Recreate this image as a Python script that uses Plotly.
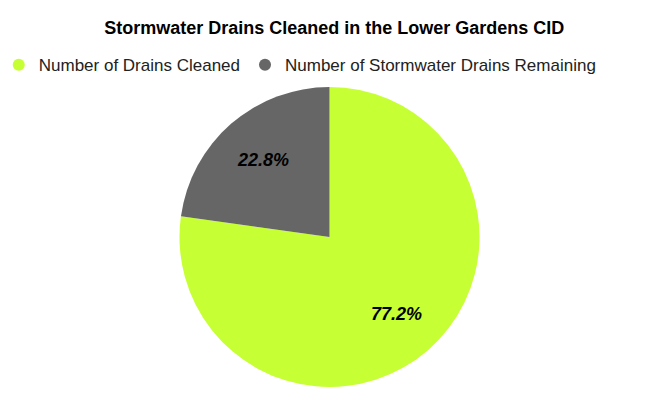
import math
import plotly.graph_objects as go

labels = ["Number of Drains Cleaned", "Number of Stormwater Drains Remaining"]
values = [77.2, 22.8]
colors = ["#c6ff33", "#666666"]

W, H = 659, 407
M = dict(l=0, r=16, t=79, b=28)

fig = go.Figure()
fig.add_trace(go.Pie(
    labels=labels, values=values, sort=False, direction="clockwise", rotation=0,
    marker=dict(colors=colors, line=dict(width=0)),
    textinfo="none",
    showlegend=False, hoverinfo="label+percent",
    domain=dict(x=[0, 1], y=[0, 1]),
))
for lab, col in zip(labels, colors):
    fig.add_trace(go.Scatter(x=[None], y=[None], mode="markers", name=lab,
                             marker=dict(symbol="circle", size=12, color=col)))

# percentage labels placed along each slice's mid-angle
pw, ph = W - M["l"] - M["r"], H - M["t"] - M["b"]
R = min(pw, ph) / 2
total = sum(values)
cum = 0
for v in values:
    mid = (cum + v / 2) / total * 2 * math.pi
    cum += v
    r = 0.68 * R
    dx, dy = r * math.sin(mid), r * math.cos(mid)
    fig.add_annotation(x=0.5 + dx / pw, y=0.5 + dy / ph, xref="paper", yref="paper",
                       xanchor="center", yanchor="middle",
                       text=f"<b><i>{v / total * 100:.1f}%</i></b>", showarrow=False,
                       font=dict(family="Liberation Sans, Arial", size=18, color="black"))

fig.update_layout(
    width=W, height=H,
    margin=dict(**M, autoexpand=False),
    paper_bgcolor="white", plot_bgcolor="white",
    font=dict(family="Liberation Sans, Arial", color="black"),
    title=dict(text="<b>Stormwater Drains Cleaned in the Lower Gardens CID</b>",
               x=0.495, xanchor="center", y=0.951, yanchor="middle",
               font=dict(size=18, color="black")),
    legend=dict(orientation="h", x=-0.0144, xanchor="left", y=1.073, yanchor="middle",
                font=dict(size=17, color="#222222"), itemclick=False),
    xaxis=dict(visible=False), yaxis=dict(visible=False),
)
fig.write_html("out.html")
